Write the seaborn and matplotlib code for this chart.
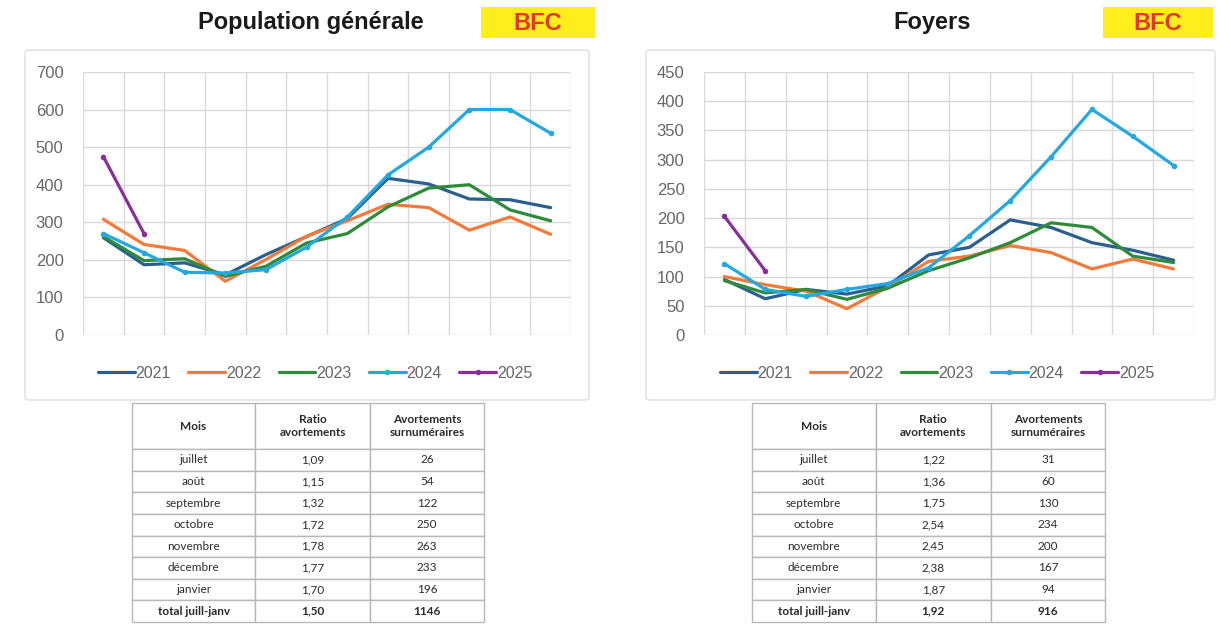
import numpy as np
import pandas as pd
import seaborn as sns
import matplotlib
matplotlib.use("Agg")
import matplotlib.pyplot as plt
from matplotlib.patches import FancyBboxPatch, Rectangle

# ---------------- data ----------------
annees = ["2021", "2022", "2023", "2024", "2025"]
mois_idx = list(range(12))

pop_2021 = [259, 187, 192, 160, 214, 262, 310, 417, 402, 362, 360, 339]
pop_2022 = [308, 241, 225, 143, 201, 263, 304, 348, 339, 279, 314, 268]
pop_2023 = [262, 198, 203, 156, 183, 245, 270, 341, 391, 400, 333, 304]
pop_2024 = [270, 219, 167, 165, 174, 234, 314, 426, 500, 600, 600, 537]
pop_2025 = [475, 270]

foy_2021 = [95, 62, 78, 70, 84, 137, 150, 197, 184, 158, 145, 128]
foy_2022 = [100, 86, 75, 45, 82, 126, 135, 153, 141, 113, 130, 113]
foy_2023 = [93, 72, 78, 61, 80, 110, 132, 158, 192, 184, 135, 124]
foy_2024 = [122, 78, 66, 78, 88, 115, 170, 230, 305, 386, 340, 290]
foy_2025 = [203, 110]

titres = ["Population générale", "Foyers"]
region = "BFC"

table_cols = ["Mois", "Ratio\navortements", "Avortements\nsurnuméraires"]
table_mois = ["juillet", "août", "septembre", "octobre", "novembre",
              "décembre", "janvier", "total juill-janv"]
pop_ratio = ["1,09", "1,15", "1,32", "1,72", "1,78", "1,77", "1,70", "1,50"]
pop_surnum = ["26", "54", "122", "250", "263", "233", "196", "1146"]
foy_ratio = ["1,22", "1,36", "1,75", "2,54", "2,45", "2,38", "1,87", "1,92"]
foy_surnum = ["31", "60", "130", "234", "200", "167", "94", "916"]

colors = {"2021": "#2A5F8F", "2022": "#F47A3A", "2023": "#2E8B3A",
          "2024": "#23A9E1", "2025": "#8A2E9A"}
with_marker = {"2021": False, "2022": False, "2023": False, "2024": True, "2025": True}

# ---------------- figure ----------------
sns.set_theme(style="white")
plt.rcParams["font.family"] = ["Liberation Sans", "DejaVu Sans"]

W, H = 1231, 624
fig = plt.figure(figsize=(W / 100, H / 100), dpi=100)
fig.patch.set_facecolor("white")


def fx(px):
    return px / W


def fy(py):
    return 1 - py / H


def draw_panel(series, ylim, yticks, title, title_cx, box, plot_box, bfc_box, leg_x):
    # chart background box
    bx0, by0, bx1, by1 = box
    fig.patches.append(FancyBboxPatch((fx(bx0), fy(by1)), fx(bx1 - bx0), (by1 - by0) / H,
                                      boxstyle="round,pad=0,rounding_size=0.004",
                                      transform=fig.transFigure, facecolor="none",
                                      edgecolor="#E3E3E3", linewidth=1.2, zorder=-5))
    # title
    fig.text(fx(title_cx), fy(23), title, ha="center", va="center",
             fontsize=17, fontweight="bold", color="#1A1A1A")
    # BFC tag
    qx0, qy0, qx1, qy1 = bfc_box
    fig.patches.append(Rectangle((fx(qx0), fy(qy1)), fx(qx1 - qx0), (qy1 - qy0) / H,
                                 transform=fig.transFigure, facecolor="#FFEE1C",
                                 edgecolor="none", zorder=-4))
    fig.text(fx((qx0 + qx1) / 2), fy((qy0 + qy1) / 2 + 1), region, ha="center", va="center",
             fontsize=17, fontweight="bold", color="#E8342A")

    px0, py0, px1, py1 = plot_box
    ax = fig.add_axes([fx(px0), fy(py1), fx(px1 - px0), (py1 - py0) / H])
    ax.patch.set_alpha(0)
    for yr, vals in zip(annees, series):
        sns.lineplot(x=mois_idx[:len(vals)], y=vals, ax=ax, color=colors[yr],
                     linewidth=2.3, label=yr,
                     marker="o" if with_marker[yr] else None,
                     markersize=4, markeredgewidth=0)
    ax.set_xlim(-0.5, 11.5)
    ax.set_ylim(*ylim)
    ax.set_yticks(yticks)
    ax.set_yticklabels([str(v) for v in yticks], fontsize=12, color="#666666")
    ax.set_xticks(np.arange(-0.5, 12, 1))
    ax.set_xticklabels([])
    ax.tick_params(length=0, pad=14)
    ax.grid(True, color="#D9D9D9", linewidth=1)
    ax.set_axisbelow(True)
    for s in ax.spines.values():
        s.set_visible(False)
    ax.set_xlabel("")
    ax.set_ylabel("")
    ax.legend(loc="center left", bbox_to_anchor=(fx(leg_x), fy(373)),
              bbox_transform=fig.transFigure, ncol=5, frameon=False,
              fontsize=11.5, handlelength=2.3, handletextpad=0.05,
              columnspacing=1.1, labelcolor="#666666", borderaxespad=0, borderpad=0)
    return ax


def draw_table(rect, ratio, surnum):
    x0, y0, x1, y1 = rect
    tax = fig.add_axes([fx(x0), fy(y1), fx(x1 - x0), (y1 - y0) / H])
    tax.axis("off")
    cell_text = [[m, r, s] for m, r, s in zip(table_mois, ratio, surnum)]
    tb = tax.table(cellText=cell_text, colLabels=table_cols, loc="center",
                   cellLoc="center")
    tb.auto_set_font_size(False)
    total_h = y1 - y0
    head_h = 46 / total_h
    row_h = (1 - head_h) / len(table_mois)
    widths = [0.35, 0.327, 0.323]
    for (r, c), cell in tb.get_celld().items():
        cell.set_width(widths[c])
        cell.set_height(head_h if r == 0 else row_h)
        cell.set_edgecolor("#B8B8B8")
        cell.set_linewidth(1.0)
        txt = cell.get_text()
        txt.set_fontfamily(["Lato", "DejaVu Sans"])
        txt.set_fontsize(8.5)
        txt.set_color("#2B2B2B")
        if r == 0 or r == len(table_mois):
            txt.set_fontweight("bold")
    return tax


draw_panel([pop_2021, pop_2022, pop_2023, pop_2024, pop_2025], (0, 700),
           list(range(0, 701, 100)), titres[0], 311,
           (25, 50, 589, 400), (83, 72, 571, 335), (481, 7, 595, 38), 98)
draw_panel([foy_2021, foy_2022, foy_2023, foy_2024, foy_2025], (0, 450),
           list(range(0, 451, 50)), titres[1], 932,
           (646, 50, 1215, 400), (704, 72, 1194, 335), (1103, 7, 1213, 38), 720)

draw_table((132, 403, 484, 622), pop_ratio, pop_surnum)
draw_table((752, 403, 1105, 622), foy_ratio, foy_surnum)

fig.savefig("out.png", dpi=100, facecolor="white")
